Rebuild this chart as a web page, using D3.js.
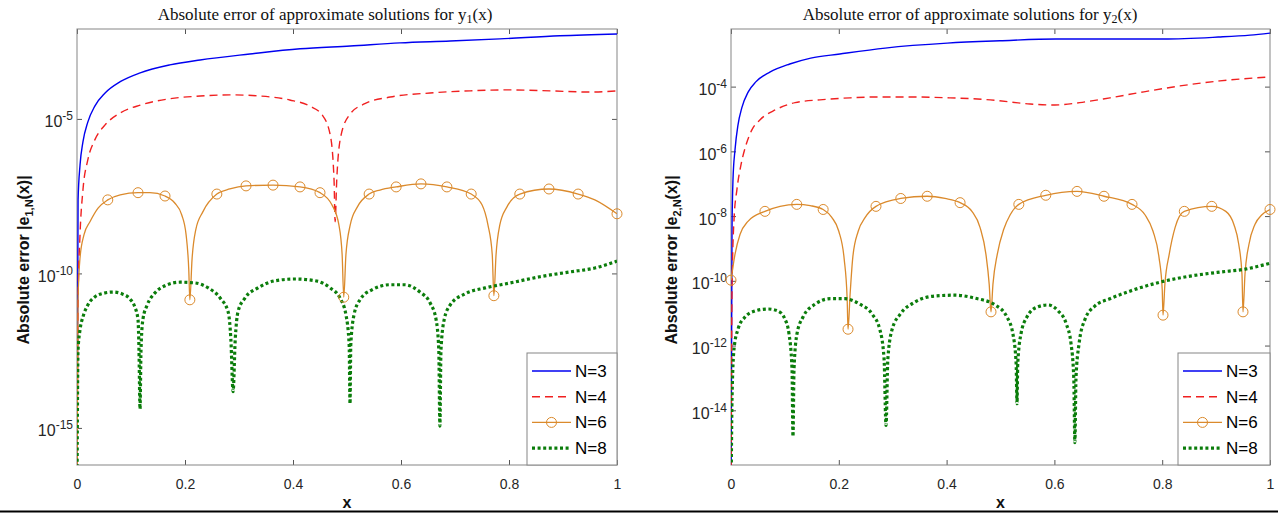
<!DOCTYPE html>
<html lang="en">
<head>
<meta charset="utf-8">
<title>Absolute error of approximate solutions</title>
<script src="https://cdnjs.cloudflare.com/ajax/libs/d3/7.8.5/d3.min.js"></script>
<style>
body { margin: 0; background: #fff; }
</style>
</head>
<body>
<script>
// ---- tick labels and legend ----
var xTicks = [0, 0.2, 0.4, 0.6, 0.8, 1];
var xTickLabels = ["0", "0.2", "0.4", "0.6", "0.8", "1"];
var legendLabels = ["N=3", "N=4", "N=6", "N=8"];

var yTicks1 = [1e-15, 1e-10, 1e-5];
var yExp1 = ["-15", "-10", "-5"];
var yTicks2 = [1e-14, 1e-12, 1e-10, 1e-8, 1e-6, 1e-4];
var yExp2 = ["-14", "-12", "-10", "-8", "-6", "-4"];

// ---- panel 1 : y1(x) ----
var p1x3 = [0,0.002,0.0056,0.011,0.02,0.033,0.052,0.08,0.117,0.172,0.228,0.32,0.413,0.506,0.598,0.691,0.783,0.894,1.0];
var p1e3 = [1e-17,2.4e-8,3.2e-7,1.8e-6,7.9e-6,2.6e-5,6.9e-5,1.6e-4,3.1e-4,5.6e-4,8.1e-4,1.26e-3,1.86e-3,2.29e-3,2.88e-3,3.31e-3,3.89e-3,4.9e-3,5.6e-3];

var p1x4 = [0,0.002,0.0056,0.011,0.02,0.033,0.052,0.08,0.117,0.172,0.228,0.283,0.339,0.394,0.431,0.454,0.469,0.476,0.478,0.481,0.489,0.506,0.533,0.58,0.654,0.728,0.802,0.876,0.95,1.0];
var p1e4 = [1e-17,1.4e-11,1.8e-9,5e-8,4.7e-7,2.1e-6,6.4e-6,1.56e-5,2.8e-5,4.5e-5,5.5e-5,6e-5,5.5e-5,4.1e-5,2.6e-5,1.35e-5,3e-6,1.07e-7,4.7e-9,1.07e-7,3e-6,1.45e-5,3.1e-5,5.1e-5,6.9e-5,8.1e-5,8.7e-5,8.1e-5,7.4e-5,8.1e-5];

var p1x6 = [0,0.0019,0.0056,0.013,0.024,0.039,0.057,0.08,0.113,0.135,0.163,0.181,0.194,0.202,0.207,0.209,0.213,0.22,0.233,0.259,0.283,0.313,0.363,0.413,0.45,0.472,0.485,0.491,0.494,0.498,0.506,0.519,0.541,0.561,0.591,0.637,0.685,0.73,0.75,0.761,0.769,0.772,0.776,0.783,0.796,0.82,0.874,0.928,0.959,1.0];
var p1e6 = [1e-17,1.4e-11,3.2e-10,1.8e-9,4.7e-9,1.3e-8,2.4e-8,3.5e-8,4.1e-8,4.1e-8,3.2e-8,1.9e-8,7.8e-9,1.8e-9,1.3e-10,1.4e-11,2.8e-10,2.6e-9,9.8e-9,3.7e-8,5.4e-8,6.8e-8,7.2e-8,6.3e-8,4.1e-8,1.66e-8,3.7e-9,4e-10,1.7e-11,4e-10,3.7e-9,1.4e-8,3.7e-8,5e-8,6.3e-8,7.9e-8,6.3e-8,3.7e-8,1.66e-8,3.7e-9,4e-10,1.9e-11,4e-10,3.7e-9,1.4e-8,3.7e-8,5.4e-8,3.7e-8,2.4e-8,8.5e-9];
var p1m6 = [6,8,10,15,19,21,22,23,24,28,32,34,35,36,37,41,45,46,47,49];

var p1x8 = [0,0.0019,0.0056,0.011,0.02,0.033,0.05,0.067,0.083,0.098,0.107,0.113,0.1148,0.1167,0.1185,0.122,0.13,0.144,0.163,0.191,0.219,0.243,0.265,0.28,0.285,0.289,0.293,0.298,0.311,0.335,0.367,0.404,0.441,0.469,0.487,0.498,0.504,0.5056,0.507,0.513,0.524,0.546,0.58,0.607,0.635,0.654,0.665,0.67,0.672,0.674,0.68,0.691,0.719,0.756,0.802,0.857,0.913,0.959,1.0];
var p1e8 = [1e-17,3.3e-13,1.5e-12,3.9e-12,9.5e-12,1.74e-11,2.3e-11,2.5e-11,2.2e-11,1.5e-11,8.3e-12,3.2e-12,3.3e-13,4.1e-15,3.3e-13,3.2e-12,9.5e-12,2.3e-11,4e-11,5.2e-11,4.9e-11,3.4e-11,1.6e-11,5.6e-12,7.1e-13,1.5e-14,7.1e-13,5.6e-12,1.6e-11,3.4e-11,5.8e-11,6.6e-11,5.8e-11,3.4e-11,1.6e-11,4.6e-12,4.9e-13,6e-15,4.9e-13,4.6e-12,1.4e-11,2.95e-11,4.3e-11,4.3e-11,2.5e-11,1.1e-11,3.2e-12,3.3e-13,1.15e-15,3.3e-13,3.2e-12,9.5e-12,2.2e-11,3.4e-11,4.9e-11,7.8e-11,1.12e-10,1.5e-10,2.5e-10];

// ---- panel 2 : y2(x) ----
var p2x3 = [0,0.0019,0.0037,0.0074,0.013,0.02,0.032,0.046,0.072,0.109,0.148,0.202,0.286,0.401,0.499,0.603,0.703,0.803,0.904,0.963,1.0];
var p2e3 = [1e-17,3.9e-9,1.35e-7,1.1e-6,6.6e-6,2.2e-5,6.9e-5,1.4e-4,2.8e-4,5e-4,7.6e-4,1.02e-3,1.55e-3,2.2e-3,2.6e-3,2.95e-3,2.95e-3,2.95e-3,3.4e-3,3.9e-3,4.5e-3];

var p2x4 = [0,0.0019,0.0056,0.011,0.0186,0.028,0.039,0.054,0.082,0.119,0.165,0.221,0.276,0.332,0.406,0.481,0.555,0.601,0.647,0.703,0.766,0.833,0.907,1.0];
var p2e4 = [1e-17,5.5e-11,7.9e-9,6.6e-8,3.9e-7,1.6e-6,4.7e-6,9.5e-6,1.9e-5,3.2e-5,3.9e-5,4.5e-5,4.8e-5,4.8e-5,4.5e-5,3.9e-5,2.9e-5,2.7e-5,3.2e-5,4.5e-5,6.9e-5,1.05e-4,1.5e-4,2e-4];

var p2x6 = [0,0.0074,0.0167,0.0315,0.063,0.091,0.122,0.147,0.171,0.187,0.2,0.21,0.2155,0.2171,0.221,0.226,0.236,0.249,0.269,0.315,0.364,0.397,0.425,0.447,0.462,0.473,0.479,0.4824,0.486,0.494,0.506,0.518,0.534,0.584,0.642,0.692,0.744,0.768,0.783,0.794,0.8,0.8015,0.805,0.813,0.824,0.841,0.892,0.918,0.933,0.942,0.948,0.9499,0.9536,0.961,0.972,0.985,1.0];
var p2e6 = [1.05e-10,6.6e-10,2.7e-9,6.9e-9,1.4e-8,2e-8,2.3e-8,2.1e-8,1.6e-8,9.1e-9,3.4e-9,4.7e-10,2.8e-11,3.2e-12,3.9e-11,5.4e-10,3.4e-9,9.1e-9,2e-8,3.5e-8,4.1e-8,3.5e-8,2.6e-8,1.4e-8,4.5e-9,6.6e-10,7.9e-11,1.1e-11,7.9e-11,6.6e-10,3.9e-9,1.1e-8,2.3e-8,4.4e-8,5.8e-8,4.1e-8,2.3e-8,1.1e-8,3.4e-9,5.4e-10,5.5e-11,8.7e-12,7.9e-11,6.6e-10,4.5e-9,1.4e-8,2e-8,1.4e-8,5.5e-9,1.35e-9,1.6e-10,1.1e-11,1.6e-10,1.35e-9,5.5e-9,1.1e-8,1.6e-8];
var p2m6 = [0,4,6,8,13,18,19,20,22,27,32,33,34,35,36,41,45,46,51,56];

var p2x8 = [0,0.0019,0.0056,0.013,0.026,0.0445,0.0686,0.087,0.1,0.1076,0.1132,0.115,0.1169,0.1224,0.1336,0.156,0.184,0.2115,0.239,0.262,0.276,0.284,0.2876,0.291,0.299,0.314,0.341,0.378,0.416,0.453,0.49,0.512,0.523,0.529,0.5306,0.532,0.538,0.549,0.568,0.588,0.607,0.622,0.631,0.636,0.638,0.64,0.6456,0.657,0.675,0.703,0.74,0.796,0.852,0.907,0.954,1.0];
var p2e8 = [1e-17,2.3e-14,7.9e-13,3.2e-12,7.6e-12,1.17e-11,1.35e-11,1.17e-11,6.6e-12,2.3e-12,1.9e-13,1.55e-15,1.9e-13,2.3e-12,7.6e-12,1.9e-11,2.8e-11,2.8e-11,1.9e-11,9.3e-12,3.2e-12,3.9e-13,3.4e-15,3.9e-13,3.2e-12,9.3e-12,2.2e-11,3.4e-11,3.6e-11,2.9e-11,1.8e-11,7.6e-12,2.3e-12,2.8e-13,1.6e-14,2.8e-13,2.3e-12,7.6e-12,1.55e-11,1.8e-11,1.17e-11,4.7e-12,1.1e-12,9.5e-14,1e-15,9.5e-14,1.1e-12,6.6e-12,1.66e-11,2.8e-11,4.8e-11,9.1e-11,1.4e-10,1.86e-10,2.3e-10,3.5e-10];

// line styles for N=3, N=4, N=6, N=8
var styles = [
	{ color: "#0000f0", width: 1.4, dash: null },
	{ color: "#f02020", width: 1.4, dash: "8,5" },
	{ color: "#db8a2c", width: 1.3, dash: null, marker: true },
	{ color: "#0b7d0b", width: 3.2, dash: "3,2.6" }
];

var SANS = "'Liberation Sans', Arial, Helvetica, sans-serif";
var SERIF = "'Liberation Serif', 'Times New Roman', serif";

var svg = d3.select("body").append("svg")
	.attr("width", 1278)
	.attr("height", 515)
	.attr("font-family", SANS);

var panels = [
	{ id: 1, left: 77, right: 617, top: 29, bottom: 465,
	  yLo: Math.pow(10, -16.2), yHi: Math.pow(10, -2.09),
	  ticks: yTicks1, exps: yExp1, titleX: 325, ylabX: 29,
	  xs: [p1x3, p1x4, p1x6, p1x8], es: [p1e3, p1e4, p1e6, p1e8], marks: p1m6, legLeft: 527 },
	{ id: 2, left: 731, right: 1270, top: 29, bottom: 465,
	  yLo: Math.pow(10, -15.69), yHi: Math.pow(10, -2.22),
	  ticks: yTicks2, exps: yExp2, titleX: 970, ylabX: 677,
	  xs: [p2x3, p2x4, p2x6, p2x8], es: [p2e3, p2e4, p2e6, p2e8], marks: p2m6, legLeft: 1178 }
];

panels.forEach(drawPanel);

// thin black rule at the bottom of the figure
svg.append("line")
	.attr("x1", 0).attr("x2", 1278)
	.attr("y1", 511.5).attr("y2", 511.5)
	.attr("stroke", "#000").attr("stroke-width", 2);

function drawPanel(p) {
	var x = d3.scaleLinear().domain([0, 1]).range([p.left, p.right]);
	var y = d3.scaleLog().domain([p.yLo, p.yHi]).range([p.bottom, p.top]);
	var w = p.right - p.left, h = p.bottom - p.top;

	// clip
	svg.append("clipPath").attr("id", "clip" + p.id)
		.append("rect").attr("x", p.left).attr("y", p.top).attr("width", w).attr("height", h);

	// axes (ticks point inwards, mirrored on top and right)
	var gx = svg.append("g").attr("transform", "translate(0," + p.bottom + ")")
		.call(d3.axisBottom(x).tickValues(xTicks).tickFormat(function(d, i) { return xTickLabels[i]; })
			.tickSizeInner(-5).tickSizeOuter(0).tickPadding(14));
	var gxt = svg.append("g").attr("transform", "translate(0," + p.top + ")")
		.call(d3.axisTop(x).tickValues(xTicks).tickFormat("").tickSizeInner(-5).tickSizeOuter(0));
	var gy = svg.append("g").attr("transform", "translate(" + p.left + ",0)")
		.call(d3.axisLeft(y).tickValues(p.ticks).tickFormat("").tickSizeInner(-5).tickSizeOuter(0).tickPadding(4));
	var gyr = svg.append("g").attr("transform", "translate(" + p.right + ",0)")
		.call(d3.axisRight(y).tickValues(p.ticks).tickFormat("").tickSizeInner(-5).tickSizeOuter(0));

	[gx, gxt, gy, gyr].forEach(function(g) {
		g.attr("font-family", SANS);
		g.select(".domain").remove();
		g.selectAll(".tick line").attr("stroke", "#555");
	});
	gx.selectAll(".tick text").attr("font-size", "14px").attr("fill", "#262626");

	// y tick labels 10^k
	gy.selectAll(".tick text").each(function(d, i) {
		var t = d3.select(this)
			.attr("font-size", "16px").attr("fill", "#262626").attr("dy", "0.5em");
		t.append("tspan").text("10");
		t.append("tspan").attr("dy", "-0.6em").attr("font-size", "12px").text(p.exps[i]);
	});

	// box
	svg.append("rect")
		.attr("x", p.left).attr("y", p.top).attr("width", w).attr("height", h)
		.attr("fill", "none").attr("stroke", "#858585").attr("stroke-width", 1);

	// curves
	var plot = svg.append("g").attr("clip-path", "url(#clip" + p.id + ")");
	var line = d3.line()
		.x(function(d) { return x(d[0]); })
		.y(function(d) { return y(d[1]); })
		.curve(d3.curveMonotoneX);

	styles.forEach(function(s, k) {
		var pts = p.xs[k].map(function(v, i) { return [v, p.es[k][i]]; });
		plot.append("path")
			.datum(pts)
			.attr("d", line)
			.attr("fill", "none")
			.attr("stroke", s.color)
			.attr("stroke-width", s.width)
			.attr("stroke-dasharray", s.dash);
		if (s.marker) {
			svg.append("g").selectAll("circle")
				.data(p.marks.map(function(i) { return pts[i]; }))
				.enter().append("circle")
				.attr("cx", function(d) { return x(d[0]); })
				.attr("cy", function(d) { return y(d[1]); })
				.attr("r", 5)
				.attr("fill", "none")
				.attr("stroke", s.color)
				.attr("stroke-width", 1);
		}
	});

	// legend
	var lx = p.legLeft, ly = 353;
	svg.append("rect")
		.attr("x", lx).attr("y", ly).attr("width", p.right - lx).attr("height", p.bottom - ly)
		.attr("fill", "#fff").attr("stroke", "#858585").attr("stroke-width", 1);
	legendLabels.forEach(function(lab, k) {
		var s = styles[k], ry = ly + 18 + k * 25.7;
		svg.append("line")
			.attr("x1", lx + 5).attr("x2", lx + 44)
			.attr("y1", ry).attr("y2", ry)
			.attr("stroke", s.color).attr("stroke-width", s.width)
			.attr("stroke-dasharray", s.dash);
		if (s.marker) {
			svg.append("circle").attr("cx", lx + 24.5).attr("cy", ry).attr("r", 5)
				.attr("fill", "none").attr("stroke", s.color).attr("stroke-width", 1);
		}
		svg.append("text")
			.attr("x", lx + 48).attr("y", ry + 6)
			.attr("font-size", "17px").attr("fill", "#000")
			.text(lab);
	});

	// title
	var tt = svg.append("text")
		.attr("x", p.titleX).attr("y", 20)
		.attr("text-anchor", "middle")
		.attr("font-family", SERIF)
		.attr("font-size", "17px").attr("fill", "#111");
	tt.append("tspan").text("Absolute error of approximate solutions for y");
	tt.append("tspan").attr("font-size", "12px").attr("dy", "3").text(p.id);
	tt.append("tspan").attr("dy", "-3").text("(x)");

	// y label
	var yl = svg.append("text")
		.attr("transform", "translate(" + p.ylabX + ",260) rotate(-90)")
		.attr("text-anchor", "middle")
		.attr("font-size", "16px").attr("font-weight", "bold").attr("fill", "#111");
	yl.append("tspan").text("Absolute error |e");
	yl.append("tspan").attr("font-size", "11px").attr("dy", "4").text(p.id + ",N");
	yl.append("tspan").attr("dy", "-4").text("(x)|");

	// x label
	svg.append("text")
		.attr("x", (p.left + p.right) / 2).attr("y", 508)
		.attr("text-anchor", "middle")
		.attr("font-size", "16px").attr("font-weight", "bold").attr("fill", "#111")
		.text("x");
}
</script>
</body>
</html>
